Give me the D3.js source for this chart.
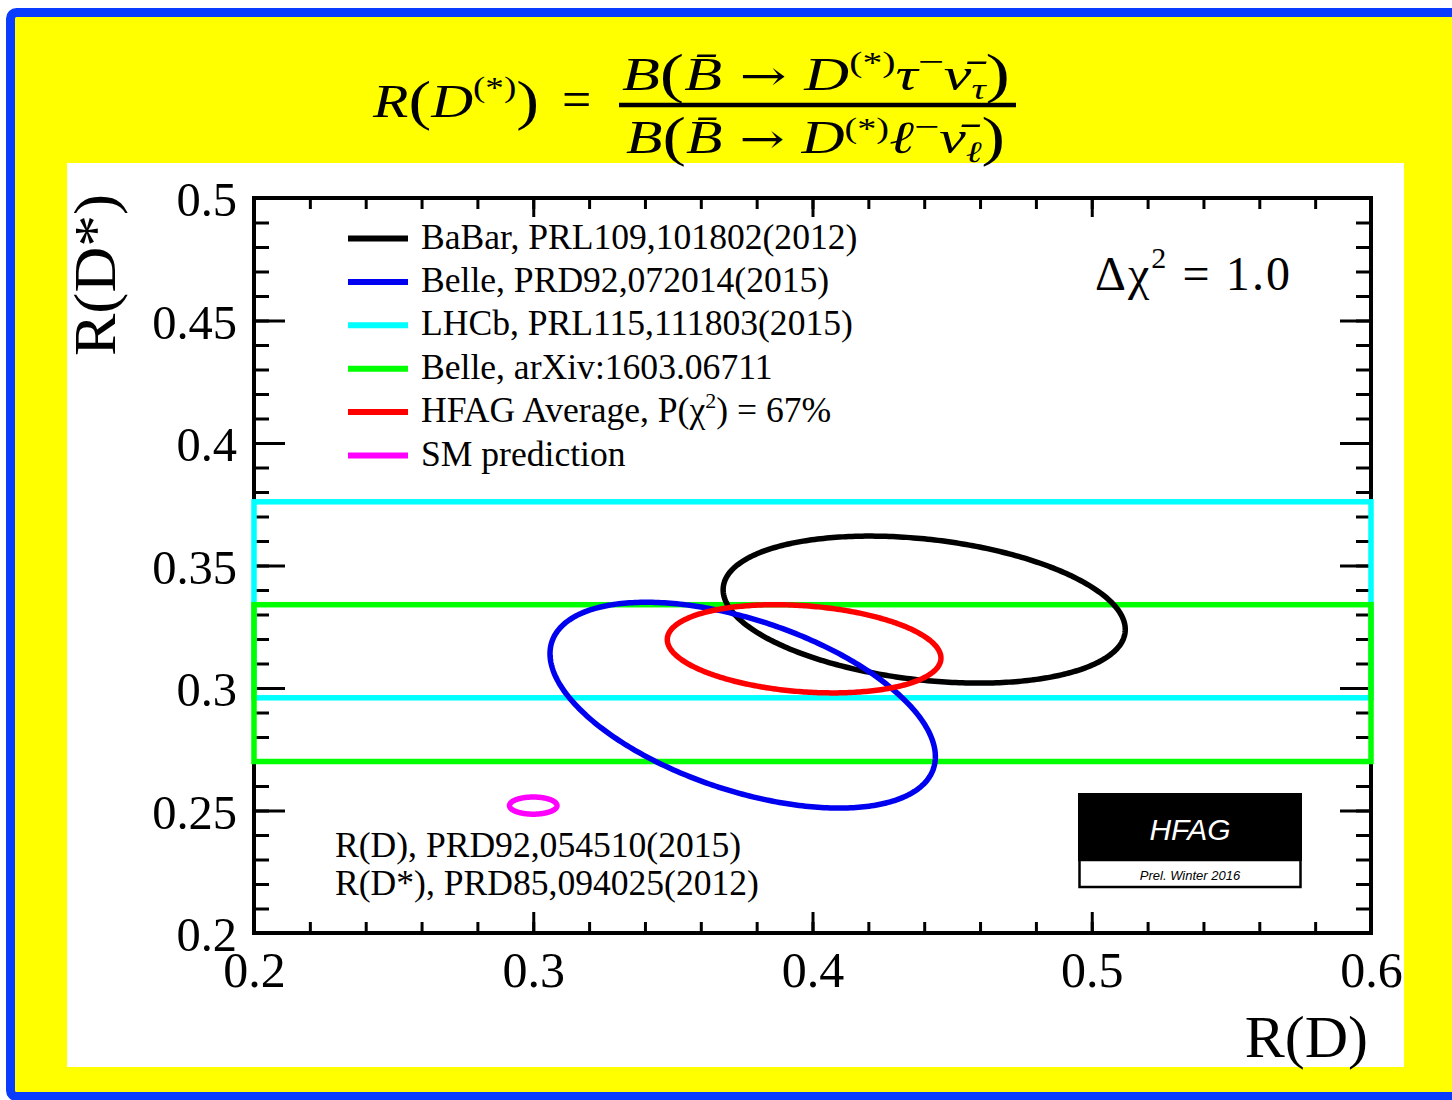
<!DOCTYPE html>
<html>
<head>
<meta charset="utf-8">
<script src="https://cdn.jsdelivr.net/npm/d3@7"></script>
<style>
  html, body { margin: 0; padding: 0; background: #ffffff; overflow: hidden; }
  svg { display: block; }
</style>
</head>
<body>
<svg id="chart" width="1452" height="1100"></svg>
<script>
// ---- data -----------------------------------------------------------
// Two-dimensional measurements of R(D) and R(D*) (delta chi^2 = 1 contours)
const ellipseNames = ["BaBar", "Belle 2015", "HFAG Average", "SM prediction"];
const ellipseRD     = [0.440, 0.375, 0.397, 0.300];
const ellipseRDErr  = [0.072, 0.069, 0.049, 0.0085];
const ellipseRDs    = [0.332, 0.293, 0.316, 0.252];
const ellipseRDsErr = [0.030, 0.042, 0.018, 0.0035];
const ellipseRho    = [-0.27, -0.50, -0.21, 0.0];
const ellipseColors = ["#000000", "#0000f0", "#ff0000", "#ff00ff"];

// R(D*)-only measurements, drawn as horizontal bands
const bandNames   = ["LHCb", "Belle arXiv"];
const bandRDs     = [0.336, 0.302];
const bandRDsErr  = [0.040, 0.032];
const bandColors  = ["#00ffff", "#00ff00"];

// legend ("|2|" marks a superscript)
const legendLabels = [
  "BaBar, PRL109,101802(2012)",
  "Belle, PRD92,072014(2015)",
  "LHCb, PRL115,111803(2015)",
  "Belle, arXiv:1603.06711",
  "HFAG Average, P(χ|2|) = 67%",
  "SM prediction"
];
const legendColors = ["#000000", "#0000f0", "#00ffff", "#00ff00", "#ff0000", "#ff00ff"];

// axes
const xDomain = [0.2, 0.6];
const yDomain = [0.2, 0.5];
const xMajorTicks = [0.2, 0.3, 0.4, 0.5, 0.6];
const xTickLabels = ["0.2", "0.3", "0.4", "0.5", "0.6"];
const xMinorTicks = d3.range(0, 21).map(i => 0.2 + i * 0.02);
const yMajorTicks = [0.2, 0.25, 0.3, 0.35, 0.4, 0.45, 0.5];
const yTickLabels = ["0.2", "0.25", "0.3", "0.35", "0.4", "0.45", "0.5"];
const yMinorTicks = d3.range(0, 31).map(i => 0.2 + i * 0.01);

const smRefLines = ["R(D), PRD92,054510(2015)", "R(D*), PRD85,094025(2012)"];

// ---- layout ---------------------------------------------------------
const svg = d3.select("#chart");
const frame = { left: 254, right: 1371, top: 198, bottom: 933 };
const x = d3.scaleLinear().domain(xDomain).range([frame.left, frame.right]);
const y = d3.scaleLinear().domain(yDomain).range([frame.bottom, frame.top]);
const serif = "'Liberation Serif', 'Times New Roman', serif";

// yellow slide background with blue border
svg.append("rect")
  .attr("x", 10.5).attr("y", 12.5).attr("width", 1700).attr("height", 1084)
  .attr("rx", 6)
  .attr("fill", "#ffff00").attr("stroke", "#0a3cff").attr("stroke-width", 9);

// white plot panel
svg.append("rect")
  .attr("x", 67).attr("y", 163).attr("width", 1337).attr("height", 904)
  .attr("fill", "#ffffff");

// ---- formula --------------------------------------------------------
// segments: t text, it italic, k relative size, sh baseline shift (em of base size), f font
function mathText(parent, x0, base, size, width, segs) {
  const t = parent.append("text")
    .attr("x", x0).attr("y", base)
    .attr("font-family", serif).attr("font-size", size).attr("fill", "#000");
  if (width) t.attr("textLength", width).attr("lengthAdjust", "spacingAndGlyphs");
  let cur = 0;
  segs.forEach(s => {
    const target = (s.sh || 0) * size;
    t.append("tspan")
      .attr("dy", target - cur)
      .attr("font-size", (s.k || 1) * size)
      .attr("font-style", s.it ? "italic" : "normal")
      .attr("font-family", s.f || null)
      .text(s.t);
    cur = target;
  });
  return t;
}

const par = k => ({ t: k, k: 1.18, sh: 0.04 });
const sup = (t, sh) => ({ t, k: 0.64, sh });
const arrow = { t: " → ", f: "'DejaVu Serif', serif", k: 0.9 };

mathText(svg, 373, 117, 47, 166, [
  { t: "R", it: true }, par("("), { t: "D", it: true }, sup("(*)", -0.42), par(")")
]);
svg.append("text").attr("x", 562).attr("y", 117)
  .attr("font-family", serif).attr("font-size", 52).text("=");

mathText(svg, 622, 90, 46, 388, [
  { t: "B", it: true }, par("("), { t: "B̄", it: true }, arrow,
  { t: "D", it: true }, sup("(*)", -0.4), { t: "τ", it: true }, { t: "−", k: 0.75, sh: -0.38 },
  { t: "ν̄", it: true }, { t: "τ", it: true, k: 0.64, sh: 0.2 }, par(")")
]);
mathText(svg, 626, 153, 46, 379, [
  { t: "B", it: true }, par("("), { t: "B̄", it: true }, arrow,
  { t: "D", it: true }, sup("(*)", -0.32), { t: "ℓ", it: true }, { t: "−", k: 0.75, sh: -0.32 },
  { t: "ν̄", it: true }, { t: "ℓ", it: true, k: 0.64, sh: 0.2 }, par(")")
]);
svg.append("line")
  .attr("x1", 619).attr("x2", 1016).attr("y1", 105).attr("y2", 105)
  .attr("stroke", "#000").attr("stroke-width", 4.5);

// ---- axes -----------------------------------------------------------
const axesG = svg.append("g");
function styleAxis(g) {
  g.select(".domain").remove();
  g.selectAll(".tick line").attr("stroke", "#000").attr("stroke-width", 3);
}
// minor ticks (all four sides)
axesG.append("g").attr("transform", `translate(0,${frame.bottom})`)
  .call(d3.axisBottom(x).tickValues(xMinorTicks).tickSizeInner(-11).tickSizeOuter(0).tickFormat(""))
  .call(styleAxis);
axesG.append("g").attr("transform", `translate(0,${frame.top})`)
  .call(d3.axisTop(x).tickValues(xMinorTicks).tickSizeInner(-11).tickSizeOuter(0).tickFormat(""))
  .call(styleAxis);
axesG.append("g").attr("transform", `translate(${frame.left},0)`)
  .call(d3.axisLeft(y).tickValues(yMinorTicks).tickSizeInner(-15).tickSizeOuter(0).tickFormat(""))
  .call(styleAxis);
axesG.append("g").attr("transform", `translate(${frame.right},0)`)
  .call(d3.axisRight(y).tickValues(yMinorTicks).tickSizeInner(-15).tickSizeOuter(0).tickFormat(""))
  .call(styleAxis);
// major ticks with labels
axesG.append("g").attr("transform", `translate(0,${frame.bottom})`)
  .call(d3.axisBottom(x).tickValues(xMajorTicks).tickSizeInner(-21).tickSizeOuter(0)
    .tickFormat((d, i) => xTickLabels[i]))
  .call(styleAxis)
  .call(g => g.selectAll(".tick text")
    .attr("y", 54).attr("dy", null)
    .attr("font-family", serif).attr("font-size", 50).attr("fill", "#000"));
axesG.append("g").attr("transform", `translate(0,${frame.top})`)
  .call(d3.axisTop(x).tickValues(xMajorTicks).tickSizeInner(-19).tickSizeOuter(0).tickFormat(""))
  .call(styleAxis);
axesG.append("g").attr("transform", `translate(${frame.left},0)`)
  .call(d3.axisLeft(y).tickValues(yMajorTicks).tickSizeInner(-31).tickSizeOuter(0)
    .tickFormat((d, i) => yTickLabels[i]))
  .call(styleAxis)
  .call(g => g.selectAll(".tick text")
    .attr("x", -17).attr("dy", "0.37em")
    .attr("font-family", serif).attr("font-size", 48.5).attr("fill", "#000"));
axesG.append("g").attr("transform", `translate(${frame.right},0)`)
  .call(d3.axisRight(y).tickValues(yMajorTicks).tickSizeInner(-31).tickSizeOuter(0).tickFormat(""))
  .call(styleAxis);

// frame
axesG.append("rect")
  .attr("x", frame.left).attr("y", frame.top)
  .attr("width", frame.right - frame.left).attr("height", frame.bottom - frame.top)
  .attr("fill", "none").attr("stroke", "#000").attr("stroke-width", 4);

// axis titles
svg.append("text")
  .attr("x", 1368).attr("y", 1057).attr("text-anchor", "end")
  .attr("font-family", serif).attr("font-size", 60).text("R(D)");
svg.append("text")
  .attr("transform", "translate(115,356) rotate(-90)")
  .attr("textLength", 162).attr("lengthAdjust", "spacingAndGlyphs")
  .attr("font-family", serif).attr("font-size", 60).text("R(D*)");

// ---- bands ----------------------------------------------------------
const bandG = svg.append("g");
bandRDs.forEach((c, i) => {
  bandG.append("rect")
    .attr("x", x(xDomain[0])).attr("y", y(c + bandRDsErr[i]))
    .attr("width", x(xDomain[1]) - x(xDomain[0]))
    .attr("height", y(c - bandRDsErr[i]) - y(c + bandRDsErr[i]))
    .attr("fill", "none").attr("stroke", bandColors[i]).attr("stroke-width", 5.5);
});

// ---- contours -------------------------------------------------------
const angles = d3.range(0, 360, 1).map(a => a * Math.PI / 180);
const contour = d3.line().x(d => x(d[0])).y(d => y(d[1])).curve(d3.curveLinearClosed);
ellipseRD.forEach((cx, i) => {
  const sx = ellipseRDErr[i], sy = ellipseRDsErr[i], r = ellipseRho[i];
  const pts = angles.map(t => [
    cx + sx * Math.cos(t),
    ellipseRDs[i] + sy * (r * Math.cos(t) + Math.sqrt(1 - r * r) * Math.sin(t))
  ]);
  svg.append("path").attr("d", contour(pts))
    .attr("fill", "none").attr("stroke", ellipseColors[i]).attr("stroke-width", 5.5);
});

// ---- legend ---------------------------------------------------------
const legendG = svg.append("g");
legendLabels.forEach((lab, i) => {
  const cy = 238.5 + i * 43.4;
  legendG.append("line")
    .attr("x1", 348).attr("x2", 408).attr("y1", cy).attr("y2", cy)
    .attr("stroke", legendColors[i]).attr("stroke-width", 6);
  const t = legendG.append("text").attr("x", 421).attr("y", cy + 10)
    .attr("font-family", serif).attr("font-size", 35.6).attr("fill", "#000");
  lab.split("|").forEach((part, j) => {
    if (j % 2 === 1) {
      t.append("tspan").attr("dy", -14).attr("font-size", 22).text(part);
    } else {
      t.append("tspan").attr("dy", j > 0 ? 14 : 0).text(part);
    }
  });
});

// delta chi^2 note
{
  const t = svg.append("text").attr("x", 1095).attr("y", 290)
    .attr("textLength", 195).attr("lengthAdjust", "spacing")
    .attr("font-family", serif).attr("font-size", 48).attr("fill", "#000");
  t.append("tspan").text("Δχ");
  t.append("tspan").attr("dy", -22).attr("font-size", 30).text("2");
  t.append("tspan").attr("dy", 22).text(" = 1.0");
}

// SM references
smRefLines.forEach((s, i) => {
  svg.append("text").attr("x", 335).attr("y", 857 + i * 38)
    .attr("font-family", serif).attr("font-size", 35.6).attr("fill", "#000").text(s);
});

// HFAG logo box
{
  const g = svg.append("g");
  g.append("rect").attr("x", 1078).attr("y", 793).attr("width", 224).attr("height", 68).attr("fill", "#000");
  g.append("rect").attr("x", 1079.5).attr("y", 860).attr("width", 221).attr("height", 27)
    .attr("fill", "#fff").attr("stroke", "#000").attr("stroke-width", 2.5);
  g.append("text").attr("x", 1190).attr("y", 840).attr("text-anchor", "middle")
    .attr("font-family", "'Liberation Sans', Arial, sans-serif").attr("font-style", "italic")
    .attr("font-size", 30).attr("fill", "#fff").text("HFAG");
  g.append("text").attr("x", 1190).attr("y", 880).attr("text-anchor", "middle")
    .attr("font-family", "'Liberation Sans', Arial, sans-serif").attr("font-style", "italic")
    .attr("font-size", 13).attr("fill", "#000").text("Prel. Winter 2016");
}
</script>
</body>
</html>
